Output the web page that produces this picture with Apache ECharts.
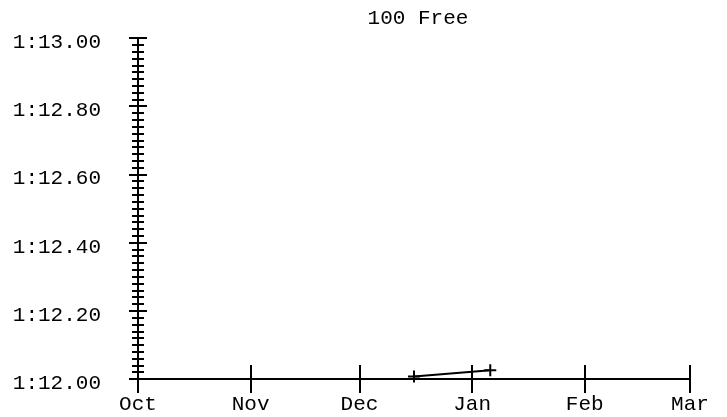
<!DOCTYPE html>
<html>
<head>
<meta charset="utf-8">
<title>100 Free</title>
<script src="https://cdn.jsdelivr.net/npm/echarts@6/dist/echarts.min.js"></script>
<style>
  html, body { margin: 0; padding: 0; background: #fff; }
  #chart { width: 727px; height: 417px; }
</style>
</head>
<body>
<div id="chart"></div>
<script>
// month ticks along the bottom
const monthNames = ['Oct', 'Nov', 'Dec', 'Jan', 'Feb', 'Mar']
const monthStarts = [[2023, 9, 1], [2023, 10, 1], [2023, 11, 1], [2024, 0, 1], [2024, 1, 1], [2024, 2, 1]]

// swim results (seconds)
const swimDates = [[2023, 11, 16], [2024, 0, 6]]
const swimTimes = [72.007, 72.026]

const yMin = 72
const yMax = 73
const yStep = 0.2

const toTime = (d) => new Date(d[0], d[1], d[2]).getTime()
const monthTicks = monthStarts.map(toTime)

// 72.2 -> "1:12.20"
const fmtTime = (v) => {
  const m = Math.floor(v / 60)
  const s = (v - m * 60).toFixed(2).padStart(5, '0')
  return m + ':' + s
}

// nearest month start for a tick value
const fmtMonth = (v) => {
  let best = 0
  monthTicks.forEach((t, i) => {
    if (Math.abs(t - v) < Math.abs(monthTicks[best] - v)) best = i
  })
  return monthNames[best]
}

const font = "'Courier New', 'Liberation Mono', monospace"
const black = '#000'

const chart = echarts.init(document.getElementById('chart'))

// two copies of each axis, one with ticks out and one with ticks in,
// so the ticks cross the axis line like in the original
const makeX = (inside, withLabels) => ({
  type: 'value',
  position: 'bottom',
  min: monthTicks[0],
  max: monthTicks[monthTicks.length - 1],
  axisLine: { show: true, onZero: false, lineStyle: { color: black, width: 2 } },
  axisTick: {
    show: true,
    inside: inside,
    length: 14,
    customValues: monthTicks,
    lineStyle: { color: black, width: 2 }
  },
  axisLabel: {
    show: withLabels,
    customValues: monthTicks,
    formatter: fmtMonth,
    color: black,
    fontFamily: font,
    fontSize: 21,
    margin: 15
  },
  splitLine: { show: false }
})

const makeY = (inside, withLabels) => ({
  type: 'value',
  position: 'left',
  min: yMin,
  max: yMax,
  interval: yStep,
  axisLine: { show: true, onZero: false, lineStyle: { color: black, width: 2 } },
  axisTick: {
    show: true,
    inside: inside,
    length: 9,
    lineStyle: { color: black, width: 2 }
  },
  minorTick: {
    show: true,
    splitNumber: 10,
    length: 6,
    lineStyle: { color: black, width: 2 }
  },
  axisLabel: {
    show: withLabels,
    formatter: fmtTime,
    color: black,
    fontFamily: font,
    fontSize: 21,
    margin: 37,
    // short line box pushes the text a few px below its tick
    verticalAlign: 'top',
    lineHeight: 9
  },
  splitLine: { show: false },
  minorSplitLine: { show: false }
})

const option = {
  animation: false,
  backgroundColor: '#fff',
  title: {
    text: '100 Free',
    left: 418,
    top: 8,
    padding: 0,
    textAlign: 'center',
    textStyle: { color: black, fontFamily: font, fontSize: 21, fontWeight: 'normal' }
  },
  grid: { left: 138, right: 37, top: 38, bottom: 38 },
  xAxis: [makeX(false, true), makeX(true, false)],
  yAxis: [makeY(false, true), makeY(true, false)],
  series: [
    {
      name: '100 Free',
      type: 'line',
      xAxisIndex: 0,
      yAxisIndex: 0,
      data: swimDates.map((d, i) => [toTime(d), swimTimes[i]]),
      symbol: 'path://M5,0h2v5h5v2h-5v5h-2v-5h-5v-2h5z',
      symbolSize: 12,
      itemStyle: { color: black },
      lineStyle: { color: black, width: 2 }
    }
  ]
}

chart.setOption(option)
</script>
</body>
</html>
